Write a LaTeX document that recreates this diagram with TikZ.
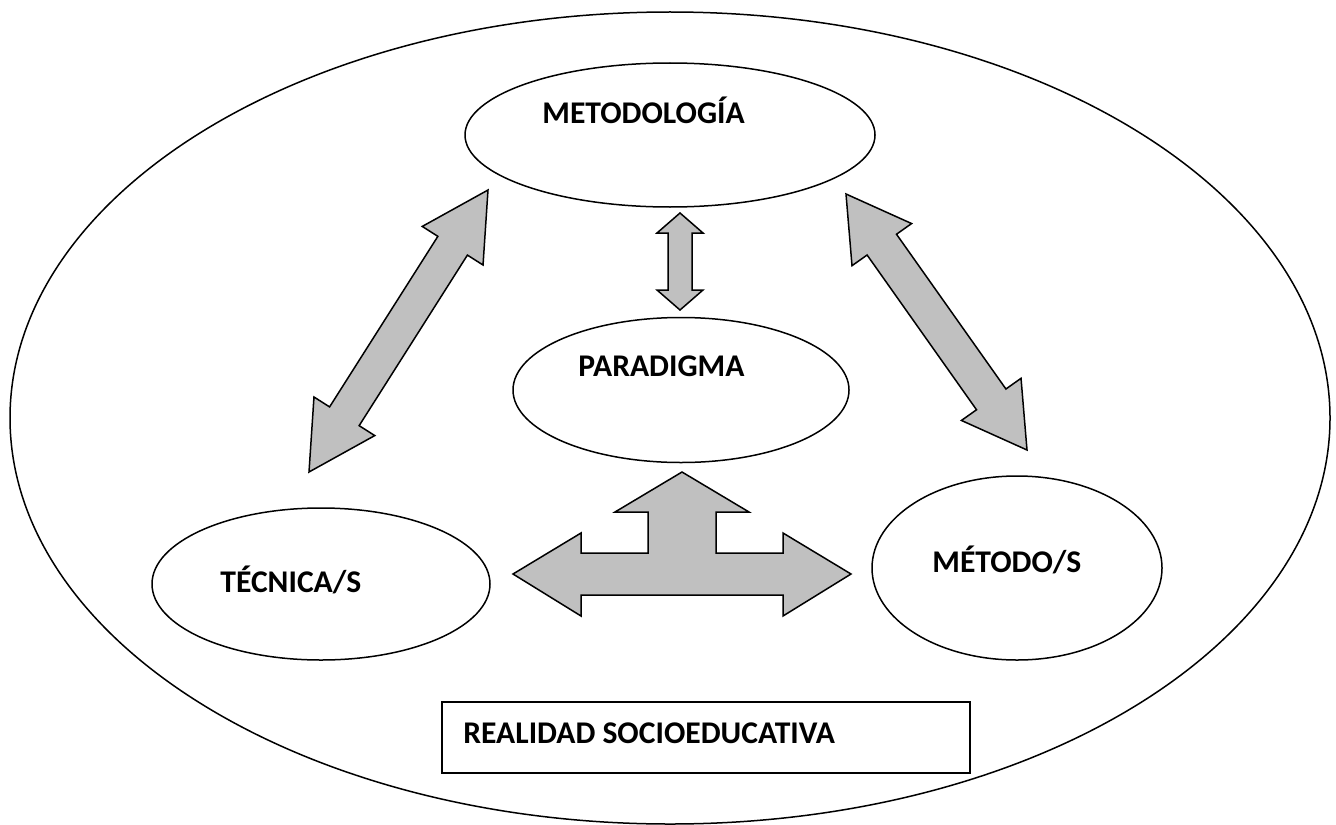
\documentclass[tikz,border=0pt]{standalone}
\usepackage{fontspec}
\setmainfont{Carlito}
\usetikzlibrary{shapes.geometric, calc}
\definecolor{arrowgray}{HTML}{C0C0C0}

\newcommand{\fatarrow}[5]{%
  \path ($(#1)!#3!(#2)$) coordinate (ha) ($(#2)!#3!(#1)$) coordinate (hb);
  \draw[blockarrow] (#1) -- ($(ha)!#4!90:(#1)$) -- ($(ha)!#5!90:(#1)$)
    -- ($(hb)!#5!-90:(#2)$) -- ($(hb)!#4!-90:(#2)$) -- (#2)
    -- ($(hb)!#4!90:(#2)$) -- ($(hb)!#5!90:(#2)$)
    -- ($(ha)!#5!-90:(#1)$) -- ($(ha)!#4!-90:(#1)$) -- cycle;}

\begin{document}
\begin{tikzpicture}[x=0.5pt, y=-0.5pt,
    every node/.style={font=\fontsize{15.8}{18}\selectfont\bfseries},
    oval/.style={draw, ellipse, line width=0.75pt, inner sep=0pt},
    lbl/.style={inner sep=0pt, anchor=base west},
    blockarrow/.style={draw, line width=0.75pt, fill=arrowgray, line join=miter},
  ]
  \useasboundingbox (0,0) rectangle (1336,824);

  \node[oval, minimum width=660pt, minimum height=406pt] (realidad) at (670,418) {};
  \node[oval, minimum width=205pt, minimum height=72pt] (metodologia) at (670,135) {};
  \node[oval, minimum width=168pt, minimum height=72.5pt] (paradigma) at (681,390) {};
  \node[oval, minimum width=169pt, minimum height=76pt] (tecnica) at (321,584) {};
  \node[oval, minimum width=145pt, minimum height=92pt] (metodo) at (1017,568) {};
  \node[draw, line width=1pt, minimum width=264pt, minimum height=35.5pt, inner sep=0pt] (caja) at (706,737.5) {};

  \node[lbl] (tmetodologia) at (542,123) {METODOLOGÍA};
  \node[lbl] (tparadigma) at (578,376) {PARADIGMA};
  \node[lbl] (ttecnica) at (220,592) {TÉCNICA/S};
  \node[lbl] (tmetodo) at (932,572) {MÉTODO/S};
  \node[lbl] (tcaja) at (463,743) {REALIDAD SOCIOEDUCATIVA};

  \coordinate (lt) at (488,190);
  \coordinate (lb) at (309,472);
  \coordinate (rt) at (846,194);
  \coordinate (rb) at (1027,450);
  \coordinate (vt) at (680,213);
  \coordinate (vb) at (680,310);

  \fatarrow{lt}{lb}{33pt}{18pt}{8.75pt}
  \fatarrow{rt}{rb}{31pt}{18.25pt}{9pt}
  \fatarrow{vt}{vb}{10pt}{11.5pt}{6pt}

  \draw[blockarrow] (682,472) -- (749,512) -- (716,512) -- (716,553) -- (783,553)
    -- (783,533) -- (851,574) -- (783,616) -- (783,595) -- (581,595) -- (581,616)
    -- (513,574) -- (581,533) -- (581,553) -- (648,553) -- (648,512) -- (615,512) -- cycle;
\end{tikzpicture}
\end{document}
